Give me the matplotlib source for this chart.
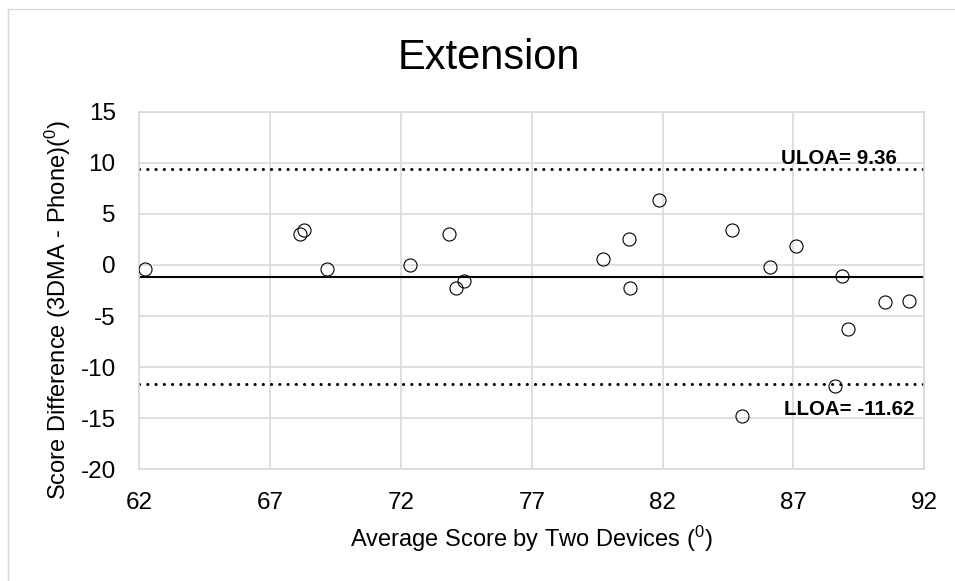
"""
Bland-Altman plot: 3DMA vs phone, extension.
"""
import matplotlib
matplotlib.use("Agg")
import matplotlib.pyplot as plt
from matplotlib.lines import Line2D

plt.rcParams["font.family"] = ["Liberation Sans", "DejaVu Sans"]
plt.rcParams["mathtext.fontset"] = "custom"
plt.rcParams["mathtext.rm"] = "Liberation Sans"
plt.rcParams["mathtext.default"] = "regular"
plt.rcParams["axes.unicode_minus"] = False

# average of the two devices / difference (3DMA - phone)
avg_score = [62.21, 68.15, 68.28, 69.17, 72.33, 73.82, 74.11, 74.40,
             79.73, 80.71, 80.76, 81.86, 84.65, 85.04, 86.10, 87.09,
             88.60, 88.85, 89.08, 90.51, 91.41]
score_diff = [-0.42, 3.00, 3.40, -0.39, 0.04, 3.00, -2.25, -1.53,
              0.56, 2.58, -2.21, 6.33, 3.40, -14.80, -0.19, 1.83,
              -11.87, -1.04, -6.22, -3.65, -3.49]

ULOA = 9.36
LLOA = -11.62
MEAN_DIFF = (ULOA + LLOA) / 2

x_ticks = [62, 67, 72, 77, 82, 87, 92]
y_ticks = [15, 10, 5, 0, -5, -10, -15, -20]

W, H = 955, 581
fig = plt.figure(figsize=(W / 100, H / 100), dpi=100)
ax = fig.add_axes([139.3 / W, 1 - 469.3 / H, 785 / W, 357.6 / H])

grid_c = "#d9d9d9"
ax.set_xlim(62, 92)
ax.set_ylim(-20, 15)
ax.set_xticks(x_ticks)
ax.set_yticks(y_ticks)
ax.grid(True, color=grid_c, linewidth=1.2)
ax.set_axisbelow(True)
for s in ax.spines.values():
    s.set_color(grid_c)
    s.set_linewidth(1.2)
ax.tick_params(length=0, labelsize=17.5, colors="black")
ax.tick_params(axis="y", pad=17)
ax.tick_params(axis="x", pad=16)

# mean + limits of agreement
ax.axhline(MEAN_DIFF, color="black", linewidth=1.5, zorder=2)
for v in (ULOA, LLOA):
    ax.axhline(v, color="black", linewidth=2.2, linestyle=(0, (0.05, 2.65)),
               dash_capstyle="round", zorder=2)

ax.plot(avg_score, score_diff, "o", markersize=9.4, markerfacecolor="none",
        markeredgecolor="black", markeredgewidth=0.8, zorder=3)

ax.text(90.94, 9.9, f"ULOA= {ULOA:.2f}", ha="right", va="baseline",
        fontsize=14.8, fontweight="bold")
ax.text(91.64, -14.71, f"LLOA= {LLOA:.2f}", ha="right", va="baseline",
        fontsize=14.8, fontweight="bold")

fig.text(489 / W, 1 - 69.3 / H, "Extension", ha="center", va="baseline",
         fontsize=30)
fig.text(531 / W, 1 - 546.7 / H, "Average Score by Two Devices ($^{0}$)",
         ha="center", va="baseline", fontsize=17)
fig.text(57.5 / W, 1 - 310.5 / H, "Score Difference (3DMA - Phone)($^{0}$)",
         ha="center", va="center", rotation=90, fontsize=17)

# chart border (left and top edges visible)
fig.add_artist(Line2D([8.3 / W, 8.3 / W], [0, 1 - 9.3 / H], color=grid_c,
                      linewidth=1.0, transform=fig.transFigure))
fig.add_artist(Line2D([8.3 / W, 1], [1 - 9.3 / H, 1 - 9.3 / H], color=grid_c,
                      linewidth=1.0, transform=fig.transFigure))

fig.savefig("out.png", dpi=100)
